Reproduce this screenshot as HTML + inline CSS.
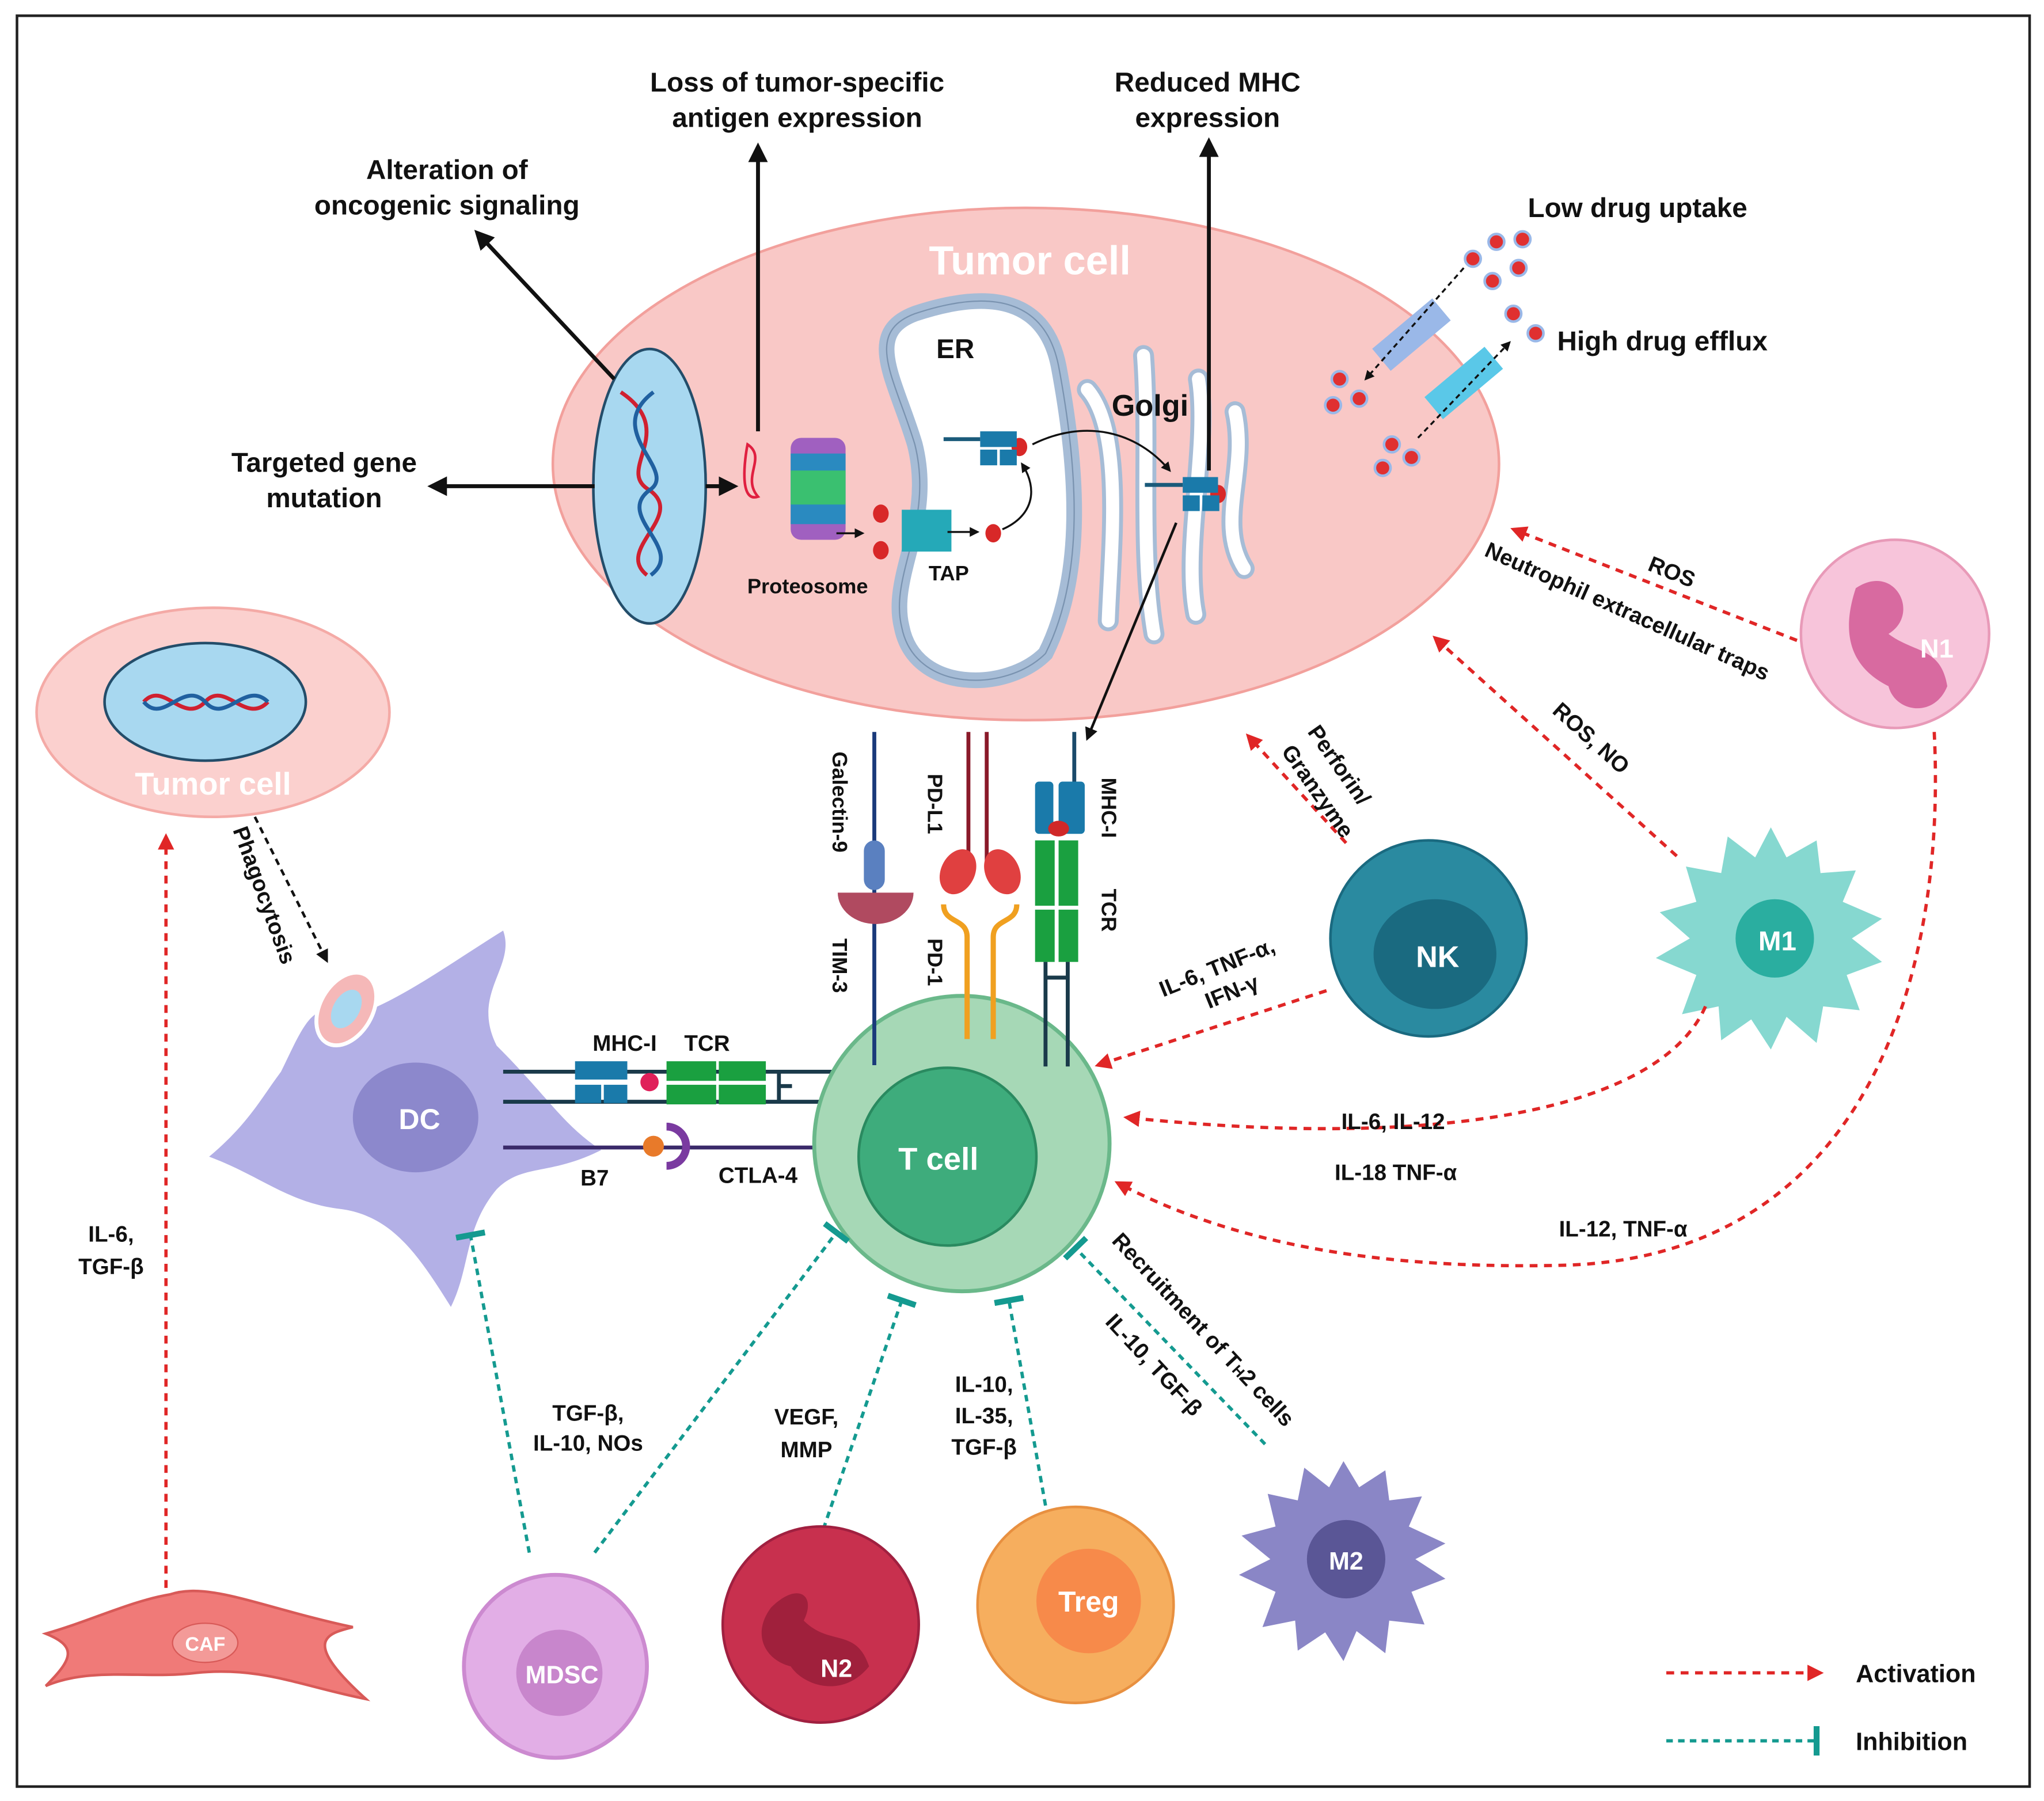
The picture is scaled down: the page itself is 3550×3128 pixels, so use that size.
<!DOCTYPE html>
<html><head><meta charset="utf-8"><style>html,body{margin:0;padding:0;background:#fff}svg{display:block}text{font-family:"Liberation Sans",sans-serif;font-weight:bold;fill:#111}</style></head>
<body>
<svg width="3550" height="3128" viewBox="0 0 1564 1378" xmlns="http://www.w3.org/2000/svg">
<defs>
<marker id="ab" viewBox="0 0 10 10" refX="8" refY="5" markerWidth="5" markerHeight="5" orient="auto-start-reverse"><path d="M0,0L10,5L0,10z" fill="#111"/></marker>
<marker id="ar" viewBox="0 0 10 10" refX="8" refY="5" markerWidth="5" markerHeight="5" orient="auto"><path d="M0,0L10,5L0,10z" fill="#e02626"/></marker>
<marker id="it" viewBox="0 0 4 20" refX="2" refY="10" markerWidth="4" markerHeight="9" orient="auto"><rect x="0" y="0" width="4" height="20" fill="#149a90"/></marker>
</defs>
<rect x="0" y="0" width="1564" height="1378" fill="#fff"/>
<rect x="13" y="12" width="1540" height="1355" fill="none" stroke="#222" stroke-width="2"/>

<!-- Tumor cell -->
<ellipse cx="785" cy="355" rx="362" ry="196" fill="#f9c8c6" stroke="#f2a09c" stroke-width="2"/>
<text x="788" y="210" font-size="31" text-anchor="middle" style="fill:#fff">Tumor cell</text>
<ellipse cx="497" cy="372" rx="43" ry="105" fill="#a8d8f0" stroke="#234d6a" stroke-width="2"/>
<path d="M475,300 C520,330 470,360 497,375 C525,395 470,420 495,440" fill="none" stroke="#d02030" stroke-width="3"/>
<path d="M500,300 C460,330 520,360 497,375 C470,395 525,420 498,440" fill="none" stroke="#2060a0" stroke-width="3"/>
<!-- ER -->
<path d="M700,240 C760,220 800,230 810,280 C825,360 830,440 800,500 C770,530 700,530 690,480 C680,440 715,400 700,340 C685,290 660,255 700,240Z" fill="#fff" stroke="#a6bcd6" stroke-width="12"/>
<path d="M700,240 C760,220 800,230 810,280 C825,360 830,440 800,500 C770,530 700,530 690,480 C680,440 715,400 700,340 C685,290 660,255 700,240Z" fill="none" stroke="#7a93b0" stroke-width="1"/>
<text x="731" y="274" font-size="21" text-anchor="middle">ER</text>
<!-- Golgi -->
<g fill="none" stroke-linecap="round">
<g stroke="#a6bcd6" stroke-width="16">
<path d="M832,298 C860,330 850,420 848,475"/>
<path d="M875,272 C880,340 872,420 883,485"/>
<path d="M917,290 C925,340 905,420 915,470"/>
<path d="M945,315 C955,360 930,400 952,435"/>
</g>
<g stroke="#fff" stroke-width="10">
<path d="M832,298 C860,330 850,420 848,475"/>
<path d="M875,272 C880,340 872,420 883,485"/>
<path d="M917,290 C925,340 905,420 915,470"/>
<path d="M945,315 C955,360 930,400 952,435"/>
</g>
</g>
<text x="880" y="318" font-size="23" text-anchor="middle">Golgi</text>
<!-- proteasome -->
<g><rect x="605" y="335" width="42" height="78" rx="8" fill="#a060c0"/><rect x="605" y="347" width="42" height="54" fill="#2a8ac0"/><rect x="605" y="360" width="42" height="26" fill="#3ac070"/></g>
<path d="M572,340 c15,10 -5,25 8,40 c-15,5 -10,-30 -8,-40z" fill="none" stroke="#e02040" stroke-width="2"/>
<text x="618" y="454" font-size="16" text-anchor="middle">Proteosome</text>
<rect x="690" y="390" width="38" height="32" fill="#25a9b8"/>
<text x="726" y="444" font-size="16" text-anchor="middle">TAP</text>
<g fill="#d82828"><ellipse cx="674" cy="393" rx="6" ry="7"/><ellipse cx="674" cy="421" rx="6" ry="7"/><ellipse cx="760" cy="408" rx="6" ry="7"/><ellipse cx="780" cy="342" rx="6" ry="7"/><ellipse cx="932" cy="378" rx="6" ry="7"/></g>
<g fill="#1a7aaa"><rect x="750" y="330" width="28" height="12"/><rect x="750" y="344" width="13" height="12"/><rect x="765" y="344" width="13" height="12"/><rect x="905" y="365" width="27" height="12"/><rect x="905" y="379" width="13" height="12"/><rect x="920" y="379" width="13" height="12"/></g>
<line x1="722" y1="336" x2="750" y2="336" stroke="#1a5a7a" stroke-width="3"/>
<line x1="876" y1="371" x2="905" y2="371" stroke="#1a5a7a" stroke-width="3"/>
<g stroke="#111" stroke-width="1.5" fill="none">
<line x1="725" y1="407" x2="748" y2="407" marker-end="url(#ab)"/>
<path d="M640,408 L660,408" marker-end="url(#ab)"/>
<path d="M767,405 C790,395 795,375 782,355" marker-end="url(#ab)"/>
<path d="M790,340 C830,320 870,330 895,360" marker-end="url(#ab)"/>
</g>
<!-- drug transporters -->
<rect x="1050" y="245" width="60" height="22" fill="#9ab8e8" transform="rotate(-40 1080 256)"/>
<rect x="1090" y="282" width="60" height="22" fill="#5ac8e8" transform="rotate(-40 1120 293)"/>
<g fill="#e03030" stroke="#9ab8e8" stroke-width="2"><circle cx="1127" cy="198" r="6"/><circle cx="1145" cy="185" r="6"/><circle cx="1165" cy="183" r="6"/><circle cx="1162" cy="205" r="6"/><circle cx="1142" cy="215" r="6"/><circle cx="1158" cy="240" r="6"/><circle cx="1175" cy="255" r="6"/><circle cx="1025" cy="290" r="6"/><circle cx="1040" cy="305" r="6"/><circle cx="1020" cy="310" r="6"/><circle cx="1065" cy="340" r="6"/><circle cx="1080" cy="350" r="6"/><circle cx="1058" cy="358" r="6"/></g>
<line x1="1120" y1="205" x2="1045" y2="290" stroke="#111" stroke-width="1.5" stroke-dasharray="4,3" marker-end="url(#ab)"/>
<line x1="1085" y1="335" x2="1155" y2="262" stroke="#111" stroke-width="1.5" stroke-dasharray="4,3" marker-end="url(#ab)"/>
<text x="1253" y="166" font-size="21" text-anchor="middle">Low drug uptake</text>
<text x="1272" y="268" font-size="21" text-anchor="middle">High drug efflux</text>

<!-- black arrows -->
<g stroke="#111" stroke-width="3" fill="none">
<line x1="470" y1="290" x2="365" y2="178" marker-end="url(#ab)"/>
<line x1="580" y1="330" x2="580" y2="112" marker-end="url(#ab)"/>
<line x1="925" y1="360" x2="925" y2="108" marker-end="url(#ab)"/>
<line x1="455" y1="372" x2="330" y2="372" marker-end="url(#ab)"/>
<line x1="540" y1="372" x2="562" y2="372" marker-end="url(#ab)"/>
</g>
<line x1="900" y1="400" x2="832" y2="565" stroke="#111" stroke-width="2" marker-end="url(#ab)"/>
<text x="342" y="137" font-size="21" text-anchor="middle">Alteration of</text>
<text x="342" y="164" font-size="21" text-anchor="middle">oncogenic signaling</text>
<text x="610" y="70" font-size="21" text-anchor="middle">Loss of tumor-specific</text>
<text x="610" y="97" font-size="21" text-anchor="middle">antigen expression</text>
<text x="924" y="70" font-size="21" text-anchor="middle">Reduced MHC</text>
<text x="924" y="97" font-size="21" text-anchor="middle">expression</text>
<text x="248" y="361" font-size="21" text-anchor="middle">Targeted gene</text>
<text x="248" y="388" font-size="21" text-anchor="middle">mutation</text>

<!-- small tumor cell -->
<ellipse cx="163" cy="545" rx="135" ry="80" fill="#fbd0ce" stroke="#f4aaa6" stroke-width="2"/>
<ellipse cx="157" cy="537" rx="77" ry="45" fill="#a8d8f0" stroke="#234d6a" stroke-width="2"/>
<path d="M110,537 C125,520 140,555 157,537 C172,520 188,555 205,537" fill="none" stroke="#d02030" stroke-width="3"/>
<path d="M110,537 C125,555 140,520 157,537 C172,555 188,520 205,537" fill="none" stroke="#2060a0" stroke-width="3"/>
<text x="163" y="608" font-size="24" text-anchor="middle" style="fill:#fff">Tumor cell</text>
<line x1="195" y1="625" x2="250" y2="735" stroke="#111" stroke-width="2" stroke-dasharray="5,4" marker-end="url(#ab)"/>
<text transform="translate(178,635) rotate(70)" font-size="17">Phagocytosis</text>

<!-- DC -->
<path d="M215,820 C230,790 240,760 262,780 C300,770 340,740 385,712 C395,740 360,760 380,800 C420,840 430,860 460,880 C420,900 400,890 380,910 C355,940 360,970 345,1000 C320,960 300,930 260,925 C220,920 200,900 160,885 C190,860 200,840 215,820Z" fill="#b3b0e6"/>
<ellipse cx="318" cy="855" rx="48" ry="42" fill="#8c88cc"/>
<text x="321" y="864" font-size="22" text-anchor="middle" style="fill:#fff">DC</text>
<ellipse cx="265" cy="772" rx="20" ry="30" fill="#f5b8b8" stroke="#fff" stroke-width="3" transform="rotate(30 265 772)"/>
<ellipse cx="265" cy="772" rx="10" ry="16" fill="#a8d8f0" transform="rotate(30 265 772)"/>

<!-- T cell -->
<line x1="385" y1="820" x2="655" y2="820" stroke="#1a3a4a" stroke-width="3"/>
<line x1="385" y1="843" x2="655" y2="843" stroke="#1a3a4a" stroke-width="3"/>
<line x1="385" y1="878" x2="655" y2="878" stroke="#3a2a6a" stroke-width="3"/>
<circle cx="736" cy="875" r="113" fill="#a6d8b6" stroke="#6ab88a" stroke-width="3"/>
<circle cx="725" cy="885" r="68" fill="#3eac7c" stroke="#2a8a60" stroke-width="2"/>
<text x="718" y="895" font-size="24" text-anchor="middle" style="fill:#fff">T cell</text>
<g fill="#1a7aaa"><rect x="440" y="812" width="40" height="14"/><rect x="440" y="830" width="20" height="14"/><rect x="462" y="830" width="18" height="14"/></g>
<circle cx="497" cy="828" r="7" fill="#e0205a"/>
<g fill="#1aa040"><rect x="510" y="812" width="38" height="15"/><rect x="510" y="830" width="38" height="15"/><rect x="550" y="812" width="36" height="15"/><rect x="550" y="830" width="36" height="15"/></g>
<path d="M596,820 v23 M596,831 h10" stroke="#1a3a4a" stroke-width="3"/>
<circle cx="500" cy="877" r="8" fill="#e87a2a"/>
<path d="M510,862 a14,14 0 1,1 0,30" fill="none" stroke="#7a3aa0" stroke-width="6"/>
<text x="478" y="804" font-size="17" text-anchor="middle">MHC-I</text>
<text x="541" y="804" font-size="17" text-anchor="middle">TCR</text>
<text x="455" y="907" font-size="17" text-anchor="middle">B7</text>
<text x="580" y="905" font-size="17" text-anchor="middle">CTLA-4</text>

<!-- receptors -->
<line x1="669" y1="560" x2="669" y2="815" stroke="#1a3a7a" stroke-width="3"/>
<rect x="661" y="643" width="16" height="38" rx="8" fill="#5a80c0"/>
<path d="M641,683 a29,24 0 0,0 58,0z" fill="#b04a60"/>
<line x1="741" y1="560" x2="741" y2="660" stroke="#8a1a2a" stroke-width="3"/>
<line x1="755" y1="560" x2="755" y2="660" stroke="#8a1a2a" stroke-width="3"/>
<ellipse cx="733" cy="667" rx="13" ry="18" fill="#e04040" transform="rotate(25 733 667)"/>
<ellipse cx="767" cy="667" rx="13" ry="18" fill="#e04040" transform="rotate(-25 767 667)"/>
<g stroke="#f0a020" stroke-width="4" fill="none"><path d="M722,692 c0,15 18,10 18,25 v78"/><path d="M778,692 c0,15 -18,10 -18,25 v78"/></g>
<line x1="822" y1="560" x2="822" y2="600" stroke="#1a4a6a" stroke-width="3"/>
<g fill="#1a7aaa"><rect x="792" y="598" width="14" height="40" rx="3"/><rect x="810" y="598" width="20" height="40" rx="3"/></g>
<ellipse cx="810" cy="634" rx="8" ry="6" fill="#d02828"/>
<g fill="#1aa040"><rect x="792" y="643" width="15" height="50"/><rect x="810" y="643" width="15" height="50"/><rect x="792" y="696" width="15" height="40"/><rect x="810" y="696" width="15" height="40"/></g>
<path d="M800,736 v80 M817,736 v80 M800,748 h17" stroke="#1a3a4a" stroke-width="3" fill="none"/>
<text transform="translate(637,575) rotate(90)" font-size="16">Galectin-9</text>
<text transform="translate(710,592) rotate(90)" font-size="16">PD-L1</text>
<text transform="translate(710,718) rotate(90)" font-size="16">PD-1</text>
<text transform="translate(637,718) rotate(90)" font-size="16">TIM-3</text>
<text transform="translate(843,595) rotate(90)" font-size="16">MHC-I</text>
<text transform="translate(843,680) rotate(90)" font-size="16">TCR</text>

<!-- NK -->
<circle cx="1093" cy="718" r="75" fill="#2a8aa0" stroke="#1a6a80" stroke-width="2"/>
<ellipse cx="1098" cy="730" rx="47" ry="42" fill="#1a6a80"/>
<text x="1100" y="740" font-size="23" text-anchor="middle" style="fill:#fff">NK</text>
<!-- M1 -->
<g transform="translate(1355,718)">
<path d="M0,-85 L12,-62 L35,-75 L38,-50 L65,-52 L55,-28 L85,-15 L62,0 L85,18 L58,28 L68,55 L40,52 L35,80 L12,60 L0,85 L-15,62 L-38,78 L-40,52 L-68,58 L-57,28 L-88,15 L-62,0 L-85,-20 L-57,-28 L-65,-55 L-38,-50 L-33,-78 L-12,-62Z" fill="#86d8d0"/>
<circle cx="3" cy="0" r="30" fill="#2aaea0"/>
<text x="5" y="9" font-size="21" text-anchor="middle" style="fill:#fff">M1</text></g>
<!-- N1 -->
<circle cx="1450" cy="485" r="72" fill="#f7c4da" stroke="#e89ab8" stroke-width="2"/>
<path d="M1420,450 c30,-20 50,20 25,35 c20,15 40,10 45,40 c-10,25 -40,20 -45,0 c-20,-10 -40,-30 -25,-75z" fill="#d86aa0"/>
<text x="1482" y="503" font-size="20" text-anchor="middle" style="fill:#fff">N1</text>

<!-- activation arrows -->
<g stroke="#e02626" stroke-width="2.5" stroke-dasharray="6,5" fill="none">
<line x1="1375" y1="490" x2="1158" y2="405" marker-end="url(#ar)"/>
<line x1="1283" y1="655" x2="1098" y2="488" marker-end="url(#ar)"/>
<line x1="1030" y1="645" x2="955" y2="563" marker-end="url(#ar)"/>
<line x1="1015" y1="758" x2="840" y2="815" marker-end="url(#ar)"/>
<path d="M1305,770 C1270,850 1100,880 862,855" marker-end="url(#ar)"/>
<path d="M1480,560 C1490,760 1420,960 1200,968 C1050,972 940,950 855,905" marker-end="url(#ar)"/>
<line x1="127" y1="1215" x2="127" y2="640" marker-end="url(#ar)"/>
</g>
<text transform="translate(1260,436) rotate(22)" font-size="17">ROS</text>
<text transform="translate(1135,425) rotate(24)" font-size="17">Neutrophil extracellular traps</text>
<text transform="translate(1187,545) rotate(42)" font-size="17">ROS, NO</text>
<text transform="translate(1000,560) rotate(55)" font-size="17">Perforin/</text>
<text transform="translate(980,575) rotate(55)" font-size="17">Granzyme</text>
<text transform="translate(890,763) rotate(-22)" font-size="17">IL-6, TNF-α,</text>
<text transform="translate(925,772) rotate(-22)" font-size="17">IFN-γ</text>
<text x="1066" y="864" font-size="17" text-anchor="middle">IL-6, IL-12</text>
<text x="1068" y="903" font-size="17" text-anchor="middle">IL-18 TNF-α</text>
<text x="1242" y="946" font-size="17" text-anchor="middle">IL-12, TNF-α</text>
<text x="85" y="950" font-size="17" text-anchor="middle">IL-6,</text>
<text x="85" y="975" font-size="17" text-anchor="middle">TGF-β</text>

<!-- inhibition -->
<g stroke="#149a90" stroke-width="2.5" stroke-dasharray="5,4" fill="none">
<line x1="405" y1="1188" x2="360" y2="945" marker-end="url(#it)"/>
<line x1="455" y1="1188" x2="640" y2="943" marker-end="url(#it)"/>
<line x1="630" y1="1170" x2="690" y2="995" marker-end="url(#it)"/>
<line x1="800" y1="1152" x2="772" y2="995" marker-end="url(#it)"/>
<line x1="968" y1="1105" x2="823" y2="955" marker-end="url(#it)"/>
</g>
<text x="450" y="1087" font-size="17" text-anchor="middle">TGF-β,</text>
<text x="450" y="1110" font-size="17" text-anchor="middle">IL-10, NOs</text>
<text x="617" y="1090" font-size="17" text-anchor="middle">VEGF,</text>
<text x="617" y="1115" font-size="17" text-anchor="middle">MMP</text>
<text x="753" y="1065" font-size="17" text-anchor="middle">IL-10,</text>
<text x="753" y="1089" font-size="17" text-anchor="middle">IL-35,</text>
<text x="753" y="1113" font-size="17" text-anchor="middle">TGF-β</text>
<text transform="translate(850,950) rotate(47)" font-size="17">Recruitment of T<tspan font-size="11">H</tspan>2 cells</text>
<text transform="translate(845,1012) rotate(47)" font-size="17">IL-10, TGF-β</text>

<!-- CAF -->
<path d="M35,1250 C70,1240 100,1225 130,1220 C160,1210 200,1230 270,1245 C250,1250 230,1255 280,1300 C230,1290 200,1275 150,1280 C110,1285 70,1275 35,1290 C55,1270 60,1260 35,1250Z" fill="#f07a78" stroke="#d85a58" stroke-width="2"/>
<ellipse cx="157" cy="1257" rx="25" ry="15" fill="#f39a98" stroke="#d85a58"/>
<text x="157" y="1263" font-size="15" text-anchor="middle" style="fill:#fff">CAF</text>
<!-- MDSC -->
<circle cx="425" cy="1275" r="70" fill="#e2aee6" stroke="#cc8ad0" stroke-width="3"/>
<circle cx="428" cy="1280" r="33" fill="#c886cc"/>
<text x="430" y="1288" font-size="19" text-anchor="middle" style="fill:#fff">MDSC</text>
<!-- N2 -->
<circle cx="628" cy="1243" r="75" fill="#c8304e" stroke="#a02040" stroke-width="2"/>
<path d="M590,1230 c20,-20 35,-10 25,10 c20,20 40,5 50,35 c-20,25 -50,15 -60,0 c-20,-5 -30,-25 -15,-45z" fill="#a0203c"/>
<text x="640" y="1283" font-size="19" text-anchor="middle" style="fill:#fff">N2</text>
<!-- Treg -->
<circle cx="823" cy="1228" r="75" fill="#f6ae5e" stroke="#e89040" stroke-width="2"/>
<circle cx="833" cy="1225" r="40" fill="#f78a4a"/>
<text x="833" y="1233" font-size="22" text-anchor="middle" style="fill:#fff">Treg</text>
<!-- M2 -->
<g transform="translate(1028,1193)">
<path d="M0,-75 L12,-55 L32,-68 L35,-45 L60,-48 L50,-25 L78,-12 L55,0 L78,15 L52,25 L62,50 L35,47 L32,72 L10,55 L0,78 L-14,56 L-35,70 L-37,47 L-62,52 L-52,25 L-80,12 L-56,0 L-78,-18 L-52,-25 L-58,-50 L-35,-45 L-30,-70 L-11,-55Z" fill="#8a86c6"/>
<circle cx="2" cy="0" r="30" fill="#5a5696"/>
<text x="2" y="8" font-size="19" text-anchor="middle" style="fill:#fff">M2</text></g>

<!-- legend -->
<line x1="1275" y1="1280" x2="1393" y2="1280" stroke="#e02626" stroke-width="2.5" stroke-dasharray="6,5" marker-end="url(#ar)"/>
<text x="1420" y="1287" font-size="19">Activation</text>
<line x1="1275" y1="1332" x2="1390" y2="1332" stroke="#149a90" stroke-width="2.5" stroke-dasharray="5,4" marker-end="url(#it)"/>
<text x="1420" y="1339" font-size="19">Inhibition</text>
</svg>
</body></html>
